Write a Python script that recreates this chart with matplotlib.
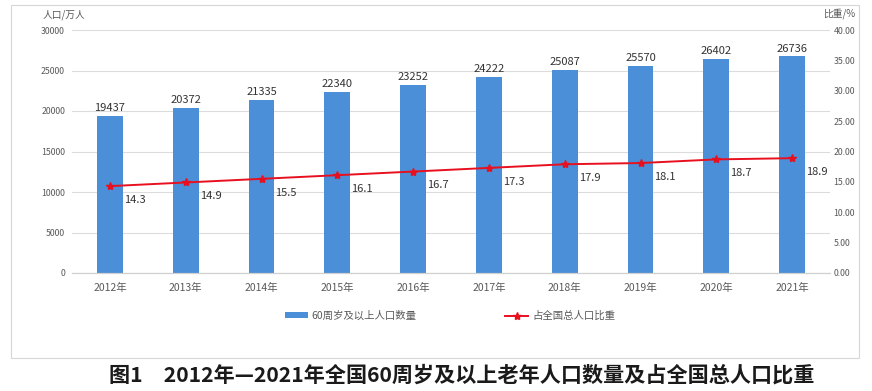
import matplotlib
matplotlib.use('Agg')
from matplotlib import pyplot as plt
from matplotlib.patches import Rectangle
from matplotlib.ticker import FormatStrFormatter


####################################################################################################
#                                             Setting                                              #
####################################################################################################
plt.rcParams['font.family'] = ['Noto Sans CJK SC', 'DejaVu Sans']


####################################################################################################
#                                             Variable                                             #
####################################################################################################
years = ['2012年', '2013年', '2014年', '2015年', '2016年',
         '2017年', '2018年', '2019年', '2020年', '2021年']
population = [19437, 20372, 21335, 22340, 23252, 24222, 25087, 25570, 26402, 26736]
share = [14.3, 14.9, 15.5, 16.1, 16.7, 17.3, 17.9, 18.1, 18.7, 18.9]

bar_color = '#4a8fd8'
line_color = '#e8101e'
tick_color = '#595959'


####################################################################################################
#                                             Plot                                                 #
####################################################################################################
fig = plt.figure(figsize=(8.72, 3.91), dpi=100)

# outer frame
fig.patches.append(Rectangle((11 / 872, 33 / 391), 848 / 872, 353 / 391,
                             transform=fig.transFigure, fill=False,
                             edgecolor='#d6d6d6', linewidth=0.8))

ax = fig.add_axes([72 / 872, 118 / 391, 758 / 872, 243 / 391])
ax2 = ax.twinx()

x = list(range(len(years)))
bars = ax.bar(x, population, width=0.34, color=bar_color, zorder=2,
              label='60周岁及以上人口数量')
ax.bar_label(bars, padding=2, fontsize=8, color='#333333')

ax.set_xlim(-0.5, len(years) - 0.5)
ax.set_ylim(0, 30000)
ax.set_yticks(range(0, 30001, 5000))
ax.set_xticks(x)
ax.set_xticklabels(years)
ax.grid(axis='y', color='#dcdcdc', linewidth=0.8, zorder=0)
ax.set_axisbelow(True)

line, = ax2.plot(x, share, color=line_color, linewidth=1.4, marker='*',
                 markersize=6, label='占全国总人口比重')
for xi, v in zip(x, share):
    ax2.annotate(f'{v}', (xi, v), xytext=(10, -10), textcoords='offset points',
                 fontsize=8, color='#333333', va='center')
ax2.set_ylim(0, 40)
ax2.set_yticks(range(0, 41, 5))
ax2.yaxis.set_major_formatter(FormatStrFormatter('%.2f'))

for a in (ax, ax2):
    for side in ('top', 'left', 'right'):
        a.spines[side].set_visible(False)
    a.spines['bottom'].set_color('#d0d0d0')
    a.tick_params(length=0)
ax.tick_params(axis='y', labelsize=6.3, labelcolor=tick_color, pad=5)
ax2.tick_params(axis='y', labelsize=6.3, labelcolor=tick_color, pad=2.5)
ax.tick_params(axis='x', labelsize=7.5, labelcolor=tick_color, pad=7)

# axis unit labels
fig.text(43 / 872, 1 - 15 / 391, '人口/万人', fontsize=7, color=tick_color, va='center')
fig.text(823 / 872, 1 - 14 / 391, '比重/%', fontsize=7, color=tick_color, va='center')

# legend
fig.legend(handles=[bars, line], loc='center', ncol=2,
           bbox_to_anchor=(450 / 872, 1 - 316 / 391), frameon=False,
           fontsize=7.5, labelcolor=tick_color, columnspacing=8.5,
           handlelength=2.2, handleheight=0.5, handletextpad=0.4)

# title
fig.text(462 / 872, 1 - 375 / 391,
         '图1\u30002012年—2021年全国60周岁及以上老年人口数量及占全国总人口比重',
         fontsize=15.2, fontweight='bold', color='#1a1a1a', ha='center', va='center')

plt.savefig('out.png', dpi=100)
plt.close()
